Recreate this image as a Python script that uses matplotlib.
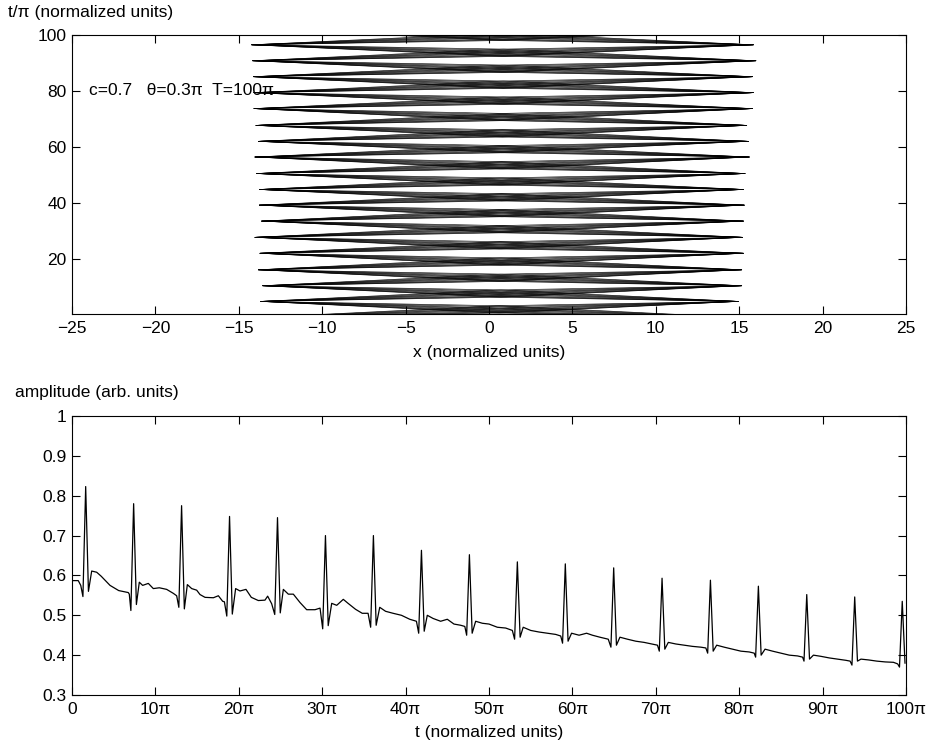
import numpy as np
import matplotlib.pyplot as plt

plt.rcParams['font.family'] = ['Liberation Sans', 'DejaVu Sans']
plt.rcParams['font.size'] = 12.5

# ---- top panel: turning points of the two counter-moving trajectories ----
tip_t = [-0.9, 4.8, 10.4, 16.1, 22.0, 27.7, 33.5, 39.2, 44.8, 50.5, 56.4,
         62.0, 67.7, 73.7, 79.4, 85.1, 90.8, 96.5, 102.2]
left_x = [-13.7, -13.69, -13.57, -13.83, -13.73, -14.03, -13.63, -13.77, -13.77,
          -13.93, -14.03, -13.83, -13.97, -14.09, -14.1, -14.13, -14.17, -14.23, -14.2]
right_x = [14.9, 14.95, 15.15, 15.15, 15.25, 15.2, 15.25, 15.3, 15.25, 15.35,
           15.6, 15.55, 15.45, 15.8, 15.85, 15.8, 16.0, 15.85, 15.9]
# spread of the strand bundle at mid-crossing (t/pi units)
strand_dt = [-1.3, -1.05, -0.75, -0.3, 0.1, 0.45, 0.9, 1.3]

# ---- bottom panel: amplitude ----
base_t = [0, 0.75, 1.05,
          2.36, 2.96, 3.5, 4.56, 5.6, 6.75, 6.87,
          8.07, 8.47, 9.15, 9.75, 10.47, 11.35, 12.15, 12.55,
          13.83, 14.35, 14.95, 15.35, 15.95, 16.95, 17.55, 18.07, 18.27,
          19.62, 20.14, 20.86, 21.5, 22.34, 23.14, 23.46, 23.94,
          25.34, 25.94, 26.54, 27.34, 28.14, 29.14, 29.74,
          31.14, 31.74, 32.53, 33.1, 34.0, 34.8, 35.5,
          36.9, 37.6, 38.5, 39.5, 40.5, 41.3,
          42.6, 43.3, 44.2, 45.0, 45.8, 46.6, 47.1,
          48.4, 49.2, 50.0, 51.0, 52.0, 52.8,
          54.1, 55.0, 56.0, 57.0, 58.0, 58.6,
          59.9, 60.8, 61.7, 62.4, 63.3, 64.3,
          65.7, 66.6, 67.6, 68.6, 69.5, 70.2,
          71.5, 72.4, 73.4, 74.4, 75.4, 76.0,
          77.3, 78.2, 79.2, 80.2, 81.2, 81.8,
          83.1, 84.0, 85.0, 86.0, 87.0, 87.6,
          88.9, 89.8, 90.8, 91.8, 92.8, 93.3,
          94.6, 95.5, 96.5, 97.5, 98.5, 99.0]
base_a = [0.587, 0.587, 0.575,
          0.611, 0.608, 0.598, 0.575, 0.562, 0.557, 0.553,
          0.583, 0.575, 0.580, 0.567, 0.569, 0.565, 0.555, 0.549,
          0.577, 0.567, 0.563, 0.552, 0.545, 0.544, 0.549, 0.535, 0.534,
          0.567, 0.561, 0.565, 0.545, 0.537, 0.538, 0.548, 0.529,
          0.565, 0.553, 0.553, 0.532, 0.514, 0.514, 0.518,
          0.530, 0.525, 0.540, 0.530, 0.515, 0.505, 0.505,
          0.520, 0.510, 0.505, 0.500, 0.490, 0.485,
          0.500, 0.492, 0.485, 0.490, 0.478, 0.475, 0.472,
          0.485, 0.480, 0.478, 0.470, 0.468, 0.462,
          0.470, 0.462, 0.458, 0.455, 0.452, 0.448,
          0.455, 0.450, 0.455, 0.450, 0.445, 0.440,
          0.445, 0.440, 0.435, 0.432, 0.428, 0.425,
          0.432, 0.428, 0.425, 0.422, 0.420, 0.418,
          0.425, 0.420, 0.415, 0.410, 0.408, 0.405,
          0.415, 0.410, 0.405, 0.400, 0.398, 0.395,
          0.400, 0.397, 0.393, 0.390, 0.387, 0.385,
          0.390, 0.388, 0.385, 0.383, 0.382, 0.378]
spike_t = [1.64, 7.39, 13.14, 18.89, 24.64, 30.39, 36.14, 41.9, 47.65,
           53.4, 59.15, 64.95, 70.75, 76.55, 82.3, 88.1, 93.85, 99.55]
spike_peak = [0.823, 0.780, 0.775, 0.748, 0.745, 0.700, 0.700, 0.663, 0.652,
              0.634, 0.629, 0.619, 0.593, 0.588, 0.573, 0.552, 0.546, 0.535]
spike_dip_left = [0.547, 0.512, 0.520, 0.498, 0.502, 0.466, 0.470, 0.455, 0.450,
                  0.440, 0.430, 0.420, 0.410, 0.405, 0.395, 0.385, 0.375, 0.370]
spike_dip_right = [0.560, 0.527, 0.516, 0.503, 0.506, 0.474, 0.475, 0.460, 0.455,
                   0.445, 0.435, 0.425, 0.415, 0.410, 0.400, 0.390, 0.385, 0.380]
dip_offset = 0.33

W, H = 938, 748
fig = plt.figure(figsize=(W / 100, H / 100), dpi=100)
ax1 = fig.add_axes([72 / W, 1 - 314 / H, 834 / W, 279 / H])
ax2 = fig.add_axes([72 / W, 1 - 695 / H, 834 / W, 279 / H])

# top: two zigzag bundles in anti-phase
for start in (0, 1):
    xs = [left_x[k] if (k + start) % 2 == 0 else right_x[k] for k in range(len(tip_t))]
    for dt in strand_dt:
        px, pt = [], []
        for k in range(len(tip_t) - 1):
            px += [xs[k], (xs[k] + xs[k + 1]) / 2]
            pt += [tip_t[k], (tip_t[k] + tip_t[k + 1]) / 2 + dt]
        px.append(xs[-1])
        pt.append(tip_t[-1])
        ax1.plot(px, pt, color='k', lw=0.45)

ax1.text(-24.0, 80.3, 'c=0.7   \u03b8=0.3\u03c0  T=100\u03c0', ha='left', va='center')
ax1.set_xlim(-25, 25)
ax1.set_ylim(0.3, 100)
ax1.set_xticks(np.arange(-25, 26, 5))
ax1.set_yticks([20, 40, 60, 80, 100])
ax1.set_xlabel('x (normalized units)')
ax1.xaxis.set_label_coords(0.5, (314 - 352) / 279)
ax1.xaxis.label.set_va('center')
ax1.set_ylabel('t/\u03c0 (normalized units)', rotation=0, ha='left', va='center')
ax1.yaxis.set_label_coords((8 - 72) / 834, (314 - 12) / 279)

# bottom: amplitude trace
t_all = np.concatenate([base_t, spike_t, np.array(spike_t) - dip_offset,
                        np.array(spike_t) + dip_offset])
a_all = np.concatenate([base_a, spike_peak, spike_dip_left, spike_dip_right])
order = np.argsort(t_all)
ax2.plot(t_all[order], a_all[order], color='k', lw=0.9)
ax2.set_xlim(0, 100)
ax2.set_ylim(0.3, 1)
ax2.set_xticks(np.arange(0, 101, 10))
ax2.set_xticklabels(['0'] + ['%d\u03c0' % v for v in range(10, 101, 10)])
ax2.set_yticks([0.3, 0.4, 0.5, 0.6, 0.7, 0.8, 0.9, 1.0])
ax2.set_yticklabels(['0.3', '0.4', '0.5', '0.6', '0.7', '0.8', '0.9', '1'])
ax2.set_xlabel('t (normalized units)')
ax2.xaxis.set_label_coords(0.5, (695 - 732) / 279)
ax2.xaxis.label.set_va('center')
ax2.set_ylabel('amplitude (arb. units)', rotation=0, ha='left', va='center')
ax2.yaxis.set_label_coords((15 - 72) / 834, (695 - 392) / 279)

for ax in (ax1, ax2):
    ax.tick_params(direction='in', top=True, right=True, length=6, width=0.8)
    ax.tick_params(axis='x', pad=5)
    ax.tick_params(axis='y', pad=4)
    for s in ax.spines.values():
        s.set_linewidth(0.8)

fig.savefig('out.png', dpi=100)
